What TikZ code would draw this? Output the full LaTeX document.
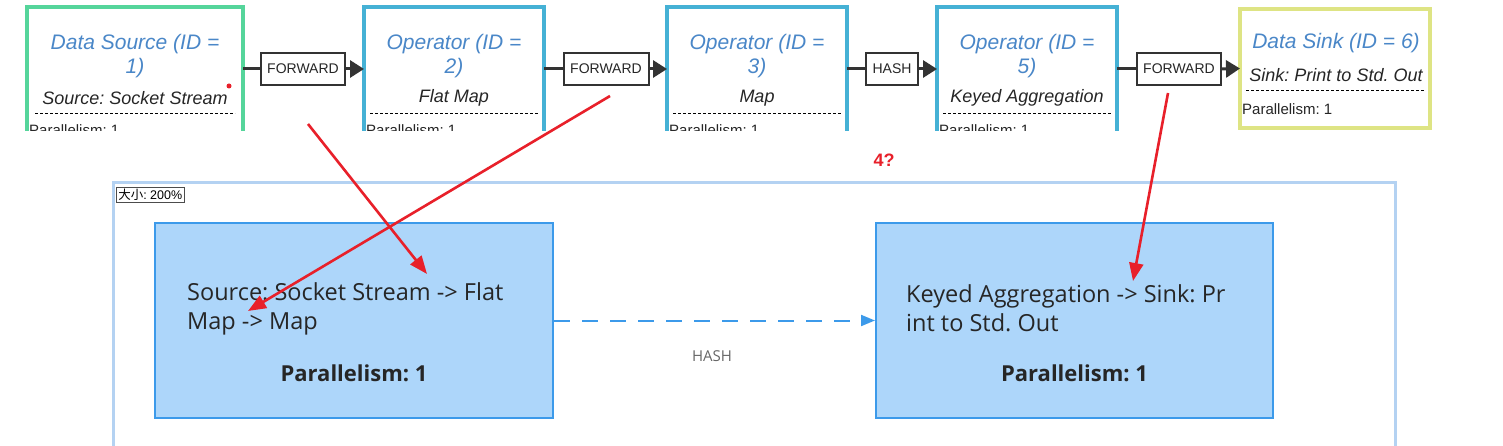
\documentclass[tikz,border=0pt]{standalone}
\usepackage{fontspec}
\setmainfont{Liberation Sans}
\newfontfamily\uifont{Open Sans}
\newfontfamily\cjkfont{Noto Sans CJK SC}
\usetikzlibrary{arrows.meta}
\definecolor{srcgreen}{HTML}{55D59B}
\definecolor{opblue}{HTML}{45B1D5}
\definecolor{sinkyel}{HTML}{DEE484}
\definecolor{titleblue}{HTML}{4A87C8}
\definecolor{edgedark}{HTML}{333333}
\definecolor{panelblue}{HTML}{B4D2F2}
\definecolor{vfill}{HTML}{ADD6FA}
\definecolor{vborder}{HTML}{3C9AEA}
\definecolor{annred}{HTML}{E8202A}
\definecolor{txtdark}{HTML}{262626}
\frenchspacing
\begin{document}
\begin{tikzpicture}[x=1pt,y=-1pt,
  boxarea/.style={minimum height=124pt,inner sep=0pt,outer sep=0pt},
  boxline/.style={line width=4pt},
  ttl/.style={font=\fontsize{21}{24}\selectfont\itshape,text=titleblue,align=center,inner sep=0pt},
  sub/.style={font=\fontsize{18}{21}\selectfont\itshape,text=txtdark,inner sep=0pt},
  par/.style={font=\fontsize{15}{18}\selectfont,text=txtdark,inner sep=0pt,anchor=base west},
  sep/.style={dash pattern=on 3pt off 2pt,line width=0.8pt,black},
  elabel/.style={draw=edgedark,line width=2pt,fill=white,font=\fontsize{14}{16}\selectfont,text=txtdark,minimum height=32pt,inner sep=0pt,outer sep=0pt},
  eline/.style={edgedark,line width=3pt},
  earrow/.style={edgedark,line width=3pt,-{Triangle[length=14pt,width=17pt]}},
  vbox/.style={draw=vborder,fill=vfill,line width=2pt,minimum width=398pt,minimum height=195pt,inner sep=0pt},
  vtext/.style={font=\uifont\fontsize{23.5}{29}\selectfont,text=txtdark,align=left,anchor=west,inner sep=0pt},
  vpar/.style={font=\uifont\bfseries\fontsize{22}{24}\selectfont,text=txtdark,inner sep=0pt},
  redarrow/.style={annred,line width=2.6pt,-{Triangle[length=18pt,width=14pt]}}
]
\useasboundingbox[fill=white] (0,0) rectangle (1503,446);

% ---------- top job graph ----------
\begin{scope}
\clip (0,0) rectangle (1503,131);
\node[boxarea,minimum width=216pt] (b1) at (135,69) {};
\node[boxarea,minimum width=180pt] (b2) at (454,69) {};
\node[boxarea,minimum width=180pt] (b3) at (757,69) {};
\node[boxarea,minimum width=180pt] (b4) at (1027,69) {};

\draw[boxline,srcgreen] (b1.south west) -- (b1.north west) -- (b1.north east) -- (b1.south east);
\draw[boxline,opblue] (b2.south west) -- (b2.north west) -- (b2.north east) -- (b2.south east);
\draw[boxline,opblue] (b3.south west) -- (b3.north west) -- (b3.north east) -- (b3.south east);
\draw[boxline,opblue] (b4.south west) -- (b4.north west) -- (b4.north east) -- (b4.south east);

\node[ttl] (t1) at (135,56) {Data Source (ID =\\1)};
\node[ttl] (t2) at (454,56) {Operator (ID =\\2)};
\node[ttl] (t3) at (757,56) {Operator (ID =\\3)};
\node[ttl] (t4) at (1027,56) {Operator (ID =\\5)};

\node[sub] (s1) at (135,98) {Source: Socket Stream};
\node[sub] (s2) at (454,98) {Flat Map};
\node[sub] (s3) at (757,98) {Map};
\node[sub] (s4) at (1027,98) {Keyed Aggregation};

\draw[sep] (35,113) -- (235,113);
\draw[sep] (370,113) -- (538,113);
\draw[sep] (673,113) -- (841,113);
\draw[sep] (943,113) -- (1111,113);

\node[par] (p1) at (29,136) {Parallelism: 1};
\node[par] (p2) at (366,136) {Parallelism: 1};
\node[par] (p3) at (669,136) {Parallelism: 1};
\node[par] (p4) at (939,136) {Parallelism: 1};
\end{scope}

\node[draw=sinkyel,line width=4pt,minimum width=190pt,minimum height=119pt,inner sep=0pt,outer sep=0pt] (b5) at (1335,68.5) {};
\node[ttl] (t5) at (1336,43) {Data Sink (ID = 6)};
\node[sub] (s5) at (1336,75) {Sink: Print to Std. Out};
\draw[sep] (1246,90) -- (1424,90);
\node[par] (p5) at (1242,114.5) {Parallelism: 1};

\fill[annred] (229,86) circle (2.5pt);

% edge labels
\node[elabel,minimum width=84pt] (f1) at (303,69) {FORWARD};
\node[elabel,minimum width=85pt] (f2) at (606,69) {FORWARD};
\node[elabel,minimum width=52pt] (h1) at (892,69) {HASH};
\node[elabel,minimum width=84pt] (f3) at (1179,69) {FORWARD};

\draw[eline] (b1.east) -- (f1.west);
\draw[earrow] (f1.east) -- (b2.west);
\draw[eline] (b2.east) -- (f2.west);
\draw[earrow] (f2.east) -- (b3.west);
\draw[eline] (b3.east) -- (h1.west);
\draw[earrow] (h1.east) -- (b4.west);
\draw[eline] (b4.east) -- (f3.west);
\draw[earrow] (f3.east) -- (b5.west);

% ---------- bottom panel ----------
\node[draw=panelblue,line width=3pt,minimum width=1282pt,minimum height=290pt,inner sep=0pt] (pnl) at (754,328) {};
\node[draw=black!70,line width=0.6pt,fill=white,anchor=north west,inner sep=2pt,font=\fontsize{12.5}{14}\selectfont] (zoomlbl) at (116,187) {{\cjkfont 大小}: 200\%};

\node[vbox] (va) at (354,320.5) {};
\node[vbox,minimum width=397pt] (vb) at (1074.5,320.5) {};

\node[vtext] (vat) at (187,308.5) {Source: Socket Stream -> Flat\\Map -> Map};
\node[vtext] (vbt) at (906,308.5) {Keyed Aggregation -> Sink: Pr\\int to Std. Out};
\node[vpar] (vap) at (354,373) {Parallelism: 1};
\node[vpar] (vbp) at (1074.5,373) {Parallelism: 1};

\draw[vborder,line width=2pt,dash pattern=on 16pt off 12pt,-{Triangle[length=14pt,width=11pt]}] (va.east) -- (vb.west);
\node[font=\uifont\fontsize{15}{17}\selectfont,text=black!60] (hashlbl) at (712,356) {HASH};

% ---------- annotations ----------
\coordinate (r1s) at (308,124);
\coordinate (r1e) at (427,274);
\coordinate (r2s) at (610,96);
\coordinate (r2e) at (248,311);
\coordinate (r3s) at (1168,93);
\coordinate (r3e) at (1133,281);
\draw[redarrow] (r1s) -- (r1e);
\draw[redarrow] (r2s) -- (r2e);
\draw[redarrow] (r3s) -- (r3e);
\node[font=\bfseries\fontsize{18}{20}\selectfont,text=annred] (q4) at (884,160) {4?};
\end{tikzpicture}
\end{document}
